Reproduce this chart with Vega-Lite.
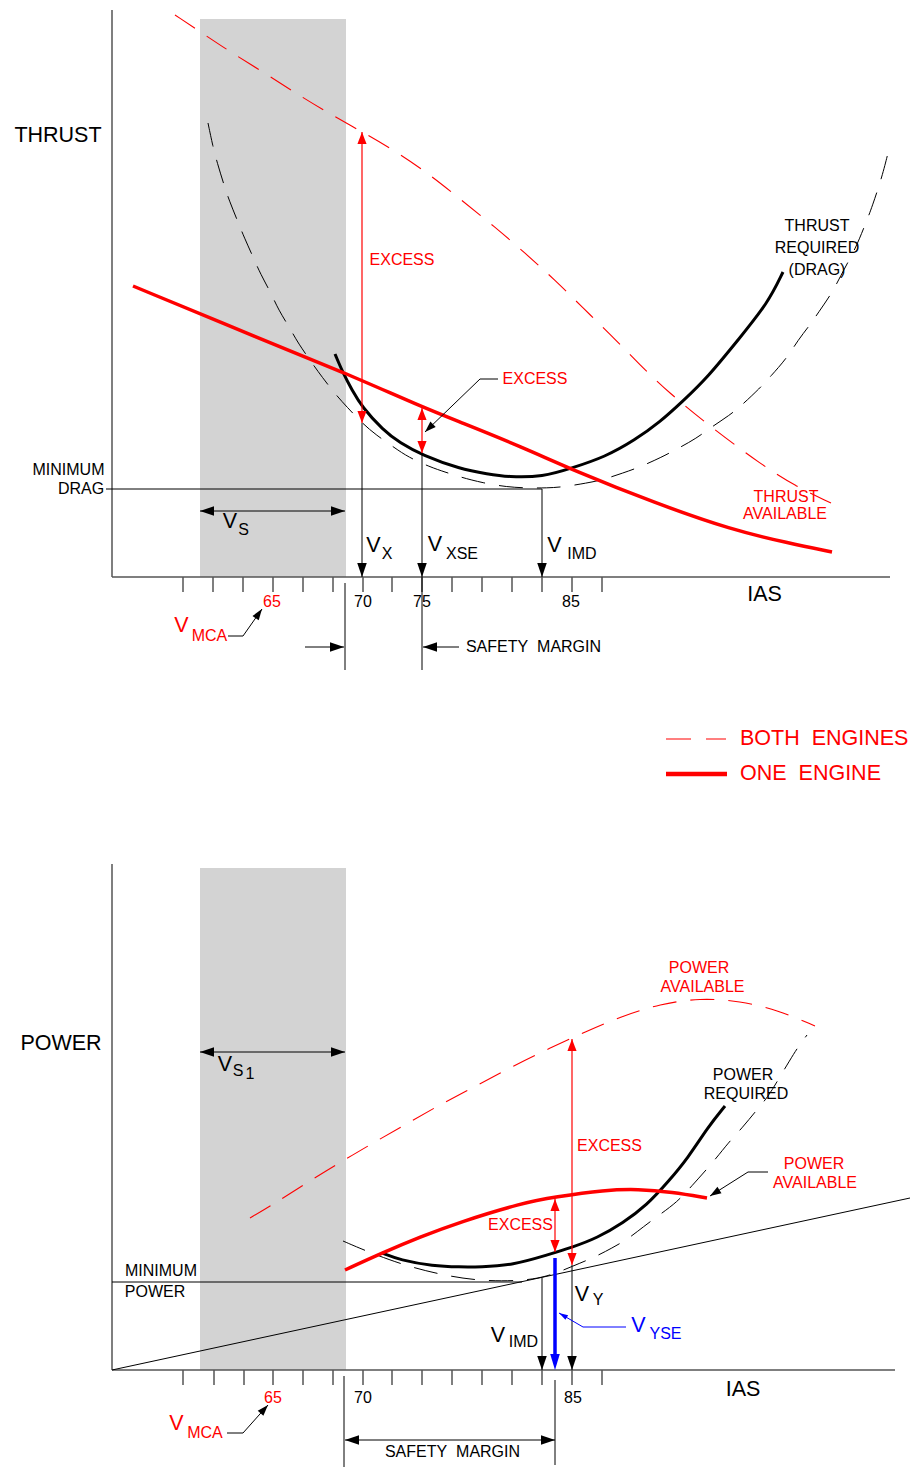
{
  "$schema": "https://vega.github.io/schema/vega-lite/v6.json",
  "background": "white",
  "padding": 0,
  "spacing": 0,
  "bounds": "flush",
  "config": {"view": {"stroke": null}, "text": {"font": "Liberation Sans"}},
  "resolve": {"scale": {"x": "independent", "y": "independent"}},
  "vconcat": [
    {
      "width": 915,
      "height": 810,
      "encoding": {
        "x": {"field": "ias", "type": "quantitative", "scale": {"domain": [0, 915], "nice": false, "zero": false}, "axis": null},
        "y": {"field": "thrust", "type": "quantitative", "scale": {"domain": [-233, 577], "nice": false, "zero": false}, "axis": null}
      },
      "layer": [
        {
          "data": {"values": [{"zone": "Vs", "ias": 200, "ias2": 346, "thrust": 0, "thrust2": 558}]},
          "mark": {"type": "rect", "color": "#d3d3d3"},
          "encoding": {"x2": {"field": "ias2"}, "y2": {"field": "thrust2"}}
        },
        {
          "data": {"values": [
            {"ias": 112, "ias2": 112, "thrust": 0, "thrust2": 567},
            {"ias": 112, "ias2": 890, "thrust": 0, "thrust2": 0},
            {"ias": 183, "ias2": 183, "thrust": 0, "thrust2": -15},
            {"ias": 213, "ias2": 213, "thrust": 0, "thrust2": -15},
            {"ias": 243, "ias2": 243, "thrust": 0, "thrust2": -15},
            {"ias": 273, "ias2": 273, "thrust": 0, "thrust2": -15},
            {"ias": 303, "ias2": 303, "thrust": 0, "thrust2": -15},
            {"ias": 333, "ias2": 333, "thrust": 0, "thrust2": -15},
            {"ias": 363, "ias2": 363, "thrust": 0, "thrust2": -15},
            {"ias": 392, "ias2": 392, "thrust": 0, "thrust2": -15},
            {"ias": 422, "ias2": 422, "thrust": 0, "thrust2": -15},
            {"ias": 452, "ias2": 452, "thrust": 0, "thrust2": -15},
            {"ias": 482, "ias2": 482, "thrust": 0, "thrust2": -15},
            {"ias": 512, "ias2": 512, "thrust": 0, "thrust2": -15},
            {"ias": 542, "ias2": 542, "thrust": 0, "thrust2": -15},
            {"ias": 572, "ias2": 572, "thrust": 0, "thrust2": -15},
            {"ias": 602, "ias2": 602, "thrust": 0, "thrust2": -15}
          ]},
          "mark": {"type": "rule", "color": "#555555", "strokeWidth": 1.5},
          "encoding": {"x2": {"field": "ias2"}, "y2": {"field": "thrust2"}}
        },
        {
          "data": {"values": [
            {"ias": 175, "thrust": 562}, {"ias": 208, "thrust": 540}, {"ias": 229, "thrust": 526}, {"ias": 263, "thrust": 505},
            {"ias": 297, "thrust": 483}, {"ias": 330, "thrust": 463}, {"ias": 366, "thrust": 443}, {"ias": 400, "thrust": 423},
            {"ias": 433, "thrust": 400}, {"ias": 460, "thrust": 378}, {"ias": 495, "thrust": 350}, {"ias": 525, "thrust": 324},
            {"ias": 555, "thrust": 297}, {"ias": 583, "thrust": 269}, {"ias": 610, "thrust": 243}, {"ias": 640, "thrust": 212},
            {"ias": 668, "thrust": 185}, {"ias": 712, "thrust": 149}, {"ias": 762, "thrust": 112}, {"ias": 795, "thrust": 91},
            {"ias": 831, "thrust": 74}
          ]},
          "mark": {"type": "line", "color": "#ff0000", "strokeWidth": 1.1, "strokeDash": [24, 14], "interpolate": "basis"}
        },
        {
          "data": {"values": [
            {"ias": 208, "thrust": 454}, {"ias": 213, "thrust": 430}, {"ias": 217, "thrust": 415}, {"ias": 224, "thrust": 392},
            {"ias": 229, "thrust": 377}, {"ias": 238, "thrust": 355}, {"ias": 244, "thrust": 340}, {"ias": 254, "thrust": 318},
            {"ias": 260, "thrust": 304}, {"ias": 272, "thrust": 282}, {"ias": 278, "thrust": 268}, {"ias": 291, "thrust": 247},
            {"ias": 298, "thrust": 234}, {"ias": 312, "thrust": 214}, {"ias": 322, "thrust": 200}, {"ias": 336, "thrust": 182},
            {"ias": 347, "thrust": 170}, {"ias": 362, "thrust": 154}, {"ias": 376, "thrust": 142}, {"ias": 395, "thrust": 129},
            {"ias": 408, "thrust": 120}, {"ias": 430, "thrust": 110}, {"ias": 445, "thrust": 105}, {"ias": 460, "thrust": 100},
            {"ias": 483, "thrust": 94}, {"ias": 507, "thrust": 90}, {"ias": 527, "thrust": 89}, {"ias": 547, "thrust": 89},
            {"ias": 563, "thrust": 90}, {"ias": 587, "thrust": 94}, {"ias": 602, "thrust": 97}, {"ias": 623, "thrust": 104},
            {"ias": 640, "thrust": 110}, {"ias": 662, "thrust": 120}, {"ias": 677, "thrust": 128}, {"ias": 697, "thrust": 139},
            {"ias": 710, "thrust": 149}, {"ias": 730, "thrust": 162}, {"ias": 742, "thrust": 172}, {"ias": 760, "thrust": 189},
            {"ias": 770, "thrust": 200}, {"ias": 787, "thrust": 219}, {"ias": 798, "thrust": 237}, {"ias": 810, "thrust": 252},
            {"ias": 818, "thrust": 264}, {"ias": 832, "thrust": 284}, {"ias": 840, "thrust": 300}, {"ias": 853, "thrust": 324},
            {"ias": 859, "thrust": 337}, {"ias": 867, "thrust": 357}, {"ias": 872, "thrust": 370}, {"ias": 882, "thrust": 400},
            {"ias": 888, "thrust": 424}
          ]},
          "mark": {"type": "line", "color": "#000000", "strokeWidth": 1, "strokeDash": [24, 14], "interpolate": "basis"}
        },
        {
          "data": {"values": [
            {"ias": 335, "thrust": 223}, {"ias": 343, "thrust": 204}, {"ias": 352, "thrust": 187}, {"ias": 362, "thrust": 170},
            {"ias": 383, "thrust": 147}, {"ias": 400, "thrust": 134}, {"ias": 422, "thrust": 122}, {"ias": 460, "thrust": 108},
            {"ias": 488, "thrust": 103}, {"ias": 508, "thrust": 100}, {"ias": 543, "thrust": 100}, {"ias": 572, "thrust": 109},
            {"ias": 605, "thrust": 120}, {"ias": 635, "thrust": 137}, {"ias": 660, "thrust": 155}, {"ias": 682, "thrust": 175},
            {"ias": 708, "thrust": 200}, {"ias": 738, "thrust": 237}, {"ias": 768, "thrust": 274}, {"ias": 783, "thrust": 305}
          ]},
          "mark": {"type": "line", "color": "#000000", "strokeWidth": 3, "interpolate": "basis"}
        },
        {
          "data": {"values": [
            {"ias": 133, "thrust": 291}, {"ias": 263, "thrust": 237}, {"ias": 343, "thrust": 205}, {"ias": 422, "thrust": 170},
            {"ias": 460, "thrust": 155}, {"ias": 522, "thrust": 130}, {"ias": 575, "thrust": 106}, {"ias": 655, "thrust": 74},
            {"ias": 732, "thrust": 47}, {"ias": 788, "thrust": 34}, {"ias": 832, "thrust": 25}
          ]},
          "mark": {"type": "line", "color": "#ff0000", "strokeWidth": 3.5, "interpolate": "basis"}
        },
        {
          "data": {"values": [
            {"ias": 106, "ias2": 542, "thrust": 88, "thrust2": 88},
            {"ias": 362, "ias2": 362, "thrust": 154, "thrust2": 0},
            {"ias": 422, "ias2": 422, "thrust": 122, "thrust2": -93},
            {"ias": 542, "ias2": 542, "thrust": 88, "thrust2": 0},
            {"ias": 345, "ias2": 345, "thrust": -6, "thrust2": -93},
            {"ias": 305, "ias2": 344, "thrust": -70, "thrust2": -70},
            {"ias": 423, "ias2": 459, "thrust": -70, "thrust2": -70},
            {"ias": 200, "ias2": 345, "thrust": 66, "thrust2": 66},
            {"ias": 498, "ias2": 480, "thrust": 198, "thrust2": 198},
            {"ias": 480, "ias2": 425, "thrust": 198, "thrust2": 145},
            {"ias": 228, "ias2": 243, "thrust": -59, "thrust2": -59},
            {"ias": 243, "ias2": 262, "thrust": -59, "thrust2": -32}
          ]},
          "mark": {"type": "rule", "color": "#000000", "strokeWidth": 1},
          "encoding": {"x2": {"field": "ias2"}, "y2": {"field": "thrust2"}}
        },
        {
          "data": {"values": [
            {"ias": 362, "ias2": 362, "thrust": 445, "thrust2": 154},
            {"ias": 422, "ias2": 422, "thrust": 169, "thrust2": 124}
          ]},
          "mark": {"type": "rule", "color": "#ff0000", "strokeWidth": 1.2},
          "encoding": {"x2": {"field": "ias2"}, "y2": {"field": "thrust2"}}
        },
        {
          "data": {"values": [{"ias": 666, "ias2": 726, "thrust": -162, "thrust2": -162}]},
          "mark": {"type": "rule", "color": "#ff0000", "strokeWidth": 1.2, "strokeDash": [25, 15]},
          "encoding": {"x2": {"field": "ias2"}, "y2": {"field": "thrust2"}}
        },
        {
          "data": {"values": [{"ias": 666, "ias2": 727, "thrust": -197, "thrust2": -197}]},
          "mark": {"type": "rule", "color": "#ff0000", "strokeWidth": 4.5},
          "encoding": {"x2": {"field": "ias2"}, "y2": {"field": "thrust2"}}
        },
        {
          "data": {"values": [
            {"ias": 362, "thrust": 0, "heading": 0},
            {"ias": 422, "thrust": 0, "heading": 0},
            {"ias": 542, "thrust": 0, "heading": 0},
            {"ias": 344, "thrust": -70, "heading": 270},
            {"ias": 423, "thrust": -70, "heading": 90},
            {"ias": 200, "thrust": 66, "heading": 90},
            {"ias": 345, "thrust": 66, "heading": 270}
          ]},
          "mark": {"type": "point", "shape": "M0,0L-0.34,-1L0.34,-1Z", "filled": true, "opacity": 1, "color": "#000000", "size": 784, "strokeWidth": 0},
          "encoding": {"angle": {"field": "heading", "type": "quantitative", "scale": null}}
        },
        {
          "data": {"values": [
            {"ias": 425, "thrust": 145, "heading": 46},
            {"ias": 262, "thrust": -32, "heading": 215}
          ]},
          "mark": {"type": "point", "shape": "M0,0L-0.34,-1L0.34,-1Z", "filled": true, "opacity": 1, "color": "#000000", "size": 500, "strokeWidth": 0},
          "encoding": {"angle": {"field": "heading", "type": "quantitative", "scale": null}}
        },
        {
          "data": {"values": [
            {"ias": 362, "thrust": 445, "heading": 180},
            {"ias": 362, "thrust": 154, "heading": 0},
            {"ias": 422, "thrust": 169, "heading": 180},
            {"ias": 422, "thrust": 124, "heading": 0}
          ]},
          "mark": {"type": "point", "shape": "M0,0L-0.38,-1L0.38,-1Z", "filled": true, "opacity": 1, "color": "#ff0000", "size": 576, "strokeWidth": 0},
          "encoding": {"angle": {"field": "heading", "type": "quantitative", "scale": null}}
        },
        {
          "data": {"values": [
            {"ias": 68.5, "thrust": 107, "label": "MINIMUM"},
            {"ias": 81, "thrust": 88, "label": "DRAG"},
            {"ias": 817, "thrust": 351, "label": "THRUST"},
            {"ias": 817, "thrust": 329, "label": "REQUIRED"},
            {"ias": 817, "thrust": 307, "label": "(DRAG)"},
            {"ias": 363, "thrust": -25, "label": "70"},
            {"ias": 422, "thrust": -25, "label": "75"},
            {"ias": 571, "thrust": -25, "label": "85"},
            {"ias": 533.5, "thrust": -70, "label": "SAFETY\u00a0\u00a0MARGIN"},
            {"ias": 243.5, "thrust": 47, "label": "S"},
            {"ias": 387, "thrust": 23, "label": "X"},
            {"ias": 462, "thrust": 23, "label": "XSE"},
            {"ias": 582, "thrust": 23, "label": "IMD"}
          ]},
          "mark": {"type": "text", "align": "center", "baseline": "middle", "fontSize": 16, "color": "#000000"},
          "encoding": {"text": {"field": "label"}}
        },
        {
          "data": {"values": [
            {"ias": 58, "thrust": 441, "label": "THRUST"},
            {"ias": 764.5, "thrust": -18, "label": "IAS"},
            {"ias": 230, "thrust": 55, "label": "V"},
            {"ias": 373.5, "thrust": 31.5, "label": "V"},
            {"ias": 435, "thrust": 32, "label": "V"},
            {"ias": 554.5, "thrust": 31, "label": "V"}
          ]},
          "mark": {"type": "text", "align": "center", "baseline": "middle", "fontSize": 21.5, "color": "#000000"},
          "encoding": {"text": {"field": "label"}}
        },
        {
          "data": {"values": [
            {"ias": 402, "thrust": 317, "label": "EXCESS"},
            {"ias": 535, "thrust": 198, "label": "EXCESS"},
            {"ias": 786, "thrust": 80, "label": "THRUST"},
            {"ias": 785, "thrust": 63, "label": "AVAILABLE"},
            {"ias": 272, "thrust": -25, "label": "65"},
            {"ias": 209.5, "thrust": -59, "label": "MCA"}
          ]},
          "mark": {"type": "text", "align": "center", "baseline": "middle", "fontSize": 16, "color": "#ff0000"},
          "encoding": {"text": {"field": "label"}}
        },
        {
          "data": {"values": [{"ias": 181.5, "thrust": -48.5, "label": "V"}]},
          "mark": {"type": "text", "align": "center", "baseline": "middle", "fontSize": 21.5, "color": "#ff0000"},
          "encoding": {"text": {"field": "label"}}
        },
        {
          "data": {"values": [
            {"ias": 740, "thrust": -162, "label": "BOTH\u00a0\u00a0ENGINES"},
            {"ias": 740, "thrust": -197, "label": "ONE\u00a0\u00a0ENGINE"}
          ]},
          "mark": {"type": "text", "align": "left", "baseline": "middle", "fontSize": 21.5, "color": "#ff0000"},
          "encoding": {"text": {"field": "label"}}
        }
      ]
    },
    {
      "width": 915,
      "height": 658,
      "encoding": {
        "x": {"field": "ias", "type": "quantitative", "scale": {"domain": [0, 915], "nice": false, "zero": false}, "axis": null},
        "y": {"field": "power", "type": "quantitative", "scale": {"domain": [-98, 560], "nice": false, "zero": false}, "axis": null}
      },
      "layer": [
        {
          "data": {"values": [{"zone": "Vs1", "ias": 200, "ias2": 346, "power": 0, "power2": 502}]},
          "mark": {"type": "rect", "color": "#d3d3d3"},
          "encoding": {"x2": {"field": "ias2"}, "y2": {"field": "power2"}}
        },
        {
          "data": {"values": [
            {"ias": 112, "ias2": 112, "power": 0, "power2": 506},
            {"ias": 112, "ias2": 895, "power": 0, "power2": 0},
            {"ias": 183, "ias2": 183, "power": 0, "power2": -15},
            {"ias": 214, "ias2": 214, "power": 0, "power2": -15},
            {"ias": 244, "ias2": 244, "power": 0, "power2": -15},
            {"ias": 273, "ias2": 273, "power": 0, "power2": -15},
            {"ias": 303, "ias2": 303, "power": 0, "power2": -15},
            {"ias": 333, "ias2": 333, "power": 0, "power2": -15},
            {"ias": 363, "ias2": 363, "power": 0, "power2": -15},
            {"ias": 392, "ias2": 392, "power": 0, "power2": -15},
            {"ias": 422, "ias2": 422, "power": 0, "power2": -15},
            {"ias": 452, "ias2": 452, "power": 0, "power2": -15},
            {"ias": 482, "ias2": 482, "power": 0, "power2": -15},
            {"ias": 512, "ias2": 512, "power": 0, "power2": -15},
            {"ias": 542, "ias2": 542, "power": 0, "power2": -15},
            {"ias": 572, "ias2": 572, "power": 0, "power2": -15},
            {"ias": 602, "ias2": 602, "power": 0, "power2": -15}
          ]},
          "mark": {"type": "rule", "color": "#555555", "strokeWidth": 1.5},
          "encoding": {"x2": {"field": "ias2"}, "y2": {"field": "power2"}}
        },
        {
          "data": {"values": [
            {"ias": 250, "power": 152}, {"ias": 272, "power": 165}, {"ias": 305, "power": 186}, {"ias": 339, "power": 207},
            {"ias": 373, "power": 227}, {"ias": 408, "power": 247}, {"ias": 443, "power": 267}, {"ias": 478, "power": 285},
            {"ias": 513, "power": 304}, {"ias": 550, "power": 322}, {"ias": 585, "power": 338}, {"ias": 622, "power": 354},
            {"ias": 660, "power": 366}, {"ias": 700, "power": 372}, {"ias": 740, "power": 369}, {"ias": 778, "power": 360},
            {"ias": 815, "power": 344}
          ]},
          "mark": {"type": "line", "color": "#ff0000", "strokeWidth": 1.1, "strokeDash": [24, 14], "interpolate": "basis"}
        },
        {
          "data": {"values": [
            {"ias": 343, "power": 129}, {"ias": 366, "power": 119}, {"ias": 403, "power": 105}, {"ias": 442, "power": 95},
            {"ias": 480, "power": 89}, {"ias": 520, "power": 89}, {"ias": 547, "power": 93}, {"ias": 573, "power": 104},
            {"ias": 595, "power": 113}, {"ias": 612, "power": 122}, {"ias": 628, "power": 131}, {"ias": 643, "power": 143},
            {"ias": 662, "power": 157}, {"ias": 677, "power": 168}, {"ias": 690, "power": 182}, {"ias": 715, "power": 210},
            {"ias": 728, "power": 227}, {"ias": 743, "power": 243}, {"ias": 755, "power": 258}, {"ias": 768, "power": 273},
            {"ias": 778, "power": 290}, {"ias": 790, "power": 310}, {"ias": 798, "power": 323}, {"ias": 807, "power": 335}
          ]},
          "mark": {"type": "line", "color": "#000000", "strokeWidth": 1, "strokeDash": [24, 14], "interpolate": "basis"}
        },
        {
          "data": {"values": [
            {"ias": 382, "power": 117}, {"ias": 400, "power": 110}, {"ias": 433, "power": 104}, {"ias": 460, "power": 103},
            {"ias": 480, "power": 103}, {"ias": 513, "power": 105}, {"ias": 547, "power": 115}, {"ias": 573, "power": 123},
            {"ias": 597, "power": 132}, {"ias": 623, "power": 147}, {"ias": 647, "power": 165}, {"ias": 668, "power": 188},
            {"ias": 688, "power": 212}, {"ias": 708, "power": 243}, {"ias": 725, "power": 264}
          ]},
          "mark": {"type": "line", "color": "#000000", "strokeWidth": 3, "interpolate": "basis"}
        },
        {
          "data": {"values": [
            {"ias": 345, "power": 100}, {"ias": 382, "power": 117}, {"ias": 420, "power": 133}, {"ias": 460, "power": 148},
            {"ias": 522, "power": 167}, {"ias": 555, "power": 173}, {"ias": 605, "power": 180}, {"ias": 638, "power": 181},
            {"ias": 672, "power": 178}, {"ias": 707, "power": 172}
          ]},
          "mark": {"type": "line", "color": "#ff0000", "strokeWidth": 3.5, "interpolate": "basis"}
        },
        {
          "data": {"values": [
            {"ias": 344, "ias2": 344, "power": -6, "power2": -97},
            {"ias": 555, "ias2": 555, "power": -10, "power2": -95},
            {"ias": 345, "ias2": 555, "power": -70, "power2": -70},
            {"ias": 200, "ias2": 345, "power": 318, "power2": 318},
            {"ias": 112, "ias2": 522, "power": 88, "power2": 88},
            {"ias": 112, "ias2": 910, "power": 0, "power2": 172},
            {"ias": 542, "ias2": 542, "power": 92, "power2": 0},
            {"ias": 572, "ias2": 572, "power": 105, "power2": 0},
            {"ias": 227, "ias2": 243, "power": -63, "power2": -63},
            {"ias": 243, "ias2": 268, "power": -63, "power2": -35},
            {"ias": 768, "ias2": 748, "power": 198, "power2": 198},
            {"ias": 748, "ias2": 710, "power": 198, "power2": 174}
          ]},
          "mark": {"type": "rule", "color": "#000000", "strokeWidth": 1},
          "encoding": {"x2": {"field": "ias2"}, "y2": {"field": "power2"}}
        },
        {
          "data": {"values": [
            {"ias": 572, "ias2": 572, "power": 331, "power2": 105},
            {"ias": 555, "ias2": 555, "power": 171, "power2": 118}
          ]},
          "mark": {"type": "rule", "color": "#ff0000", "strokeWidth": 1.2},
          "encoding": {"x2": {"field": "ias2"}, "y2": {"field": "power2"}}
        },
        {
          "data": {"values": [{"ias": 555, "ias2": 555, "power": 112, "power2": 12}]},
          "mark": {"type": "rule", "color": "#0000ff", "strokeWidth": 3.5},
          "encoding": {"x2": {"field": "ias2"}, "y2": {"field": "power2"}}
        },
        {
          "data": {"values": [
            {"ias": 626, "ias2": 583, "power": 43, "power2": 43},
            {"ias": 583, "ias2": 559, "power": 43, "power2": 57}
          ]},
          "mark": {"type": "rule", "color": "#0000ff", "strokeWidth": 1},
          "encoding": {"x2": {"field": "ias2"}, "y2": {"field": "power2"}}
        },
        {
          "data": {"values": [
            {"ias": 542, "power": 0, "heading": 0},
            {"ias": 572, "power": 0, "heading": 0},
            {"ias": 345, "power": -70, "heading": 90},
            {"ias": 555, "power": -70, "heading": 270},
            {"ias": 200, "power": 318, "heading": 90},
            {"ias": 345, "power": 318, "heading": 270}
          ]},
          "mark": {"type": "point", "shape": "M0,0L-0.34,-1L0.34,-1Z", "filled": true, "opacity": 1, "color": "#000000", "size": 784, "strokeWidth": 0},
          "encoding": {"angle": {"field": "heading", "type": "quantitative", "scale": null}}
        },
        {
          "data": {"values": [
            {"ias": 268, "power": -35, "heading": 221.8},
            {"ias": 710, "power": 174, "heading": 57.7}
          ]},
          "mark": {"type": "point", "shape": "M0,0L-0.34,-1L0.34,-1Z", "filled": true, "opacity": 1, "color": "#000000", "size": 500, "strokeWidth": 0},
          "encoding": {"angle": {"field": "heading", "type": "quantitative", "scale": null}}
        },
        {
          "data": {"values": [
            {"ias": 572, "power": 331, "heading": 180},
            {"ias": 572, "power": 105, "heading": 0},
            {"ias": 555, "power": 171, "heading": 180},
            {"ias": 555, "power": 118, "heading": 0}
          ]},
          "mark": {"type": "point", "shape": "M0,0L-0.38,-1L0.38,-1Z", "filled": true, "opacity": 1, "color": "#ff0000", "size": 576, "strokeWidth": 0},
          "encoding": {"angle": {"field": "heading", "type": "quantitative", "scale": null}}
        },
        {
          "data": {"values": [{"ias": 555, "power": 0, "heading": 0}]},
          "mark": {"type": "point", "shape": "M0,0L-0.3,-1L0.3,-1Z", "filled": true, "opacity": 1, "color": "#0000ff", "size": 1024, "strokeWidth": 0},
          "encoding": {"angle": {"field": "heading", "type": "quantitative", "scale": null}}
        },
        {
          "data": {"values": [{"ias": 559, "power": 57, "heading": 120.3}]},
          "mark": {"type": "point", "shape": "M0,0L-0.3,-1L0.3,-1Z", "filled": true, "opacity": 1, "color": "#0000ff", "size": 324, "strokeWidth": 0},
          "encoding": {"angle": {"field": "heading", "type": "quantitative", "scale": null}}
        },
        {
          "data": {"values": [
            {"ias": 161, "power": 99, "label": "MINIMUM"},
            {"ias": 155, "power": 78, "label": "POWER"},
            {"ias": 743, "power": 295, "label": "POWER"},
            {"ias": 746, "power": 276, "label": "REQUIRED"},
            {"ias": 363, "power": -28, "label": "70"},
            {"ias": 573, "power": -28, "label": "85"},
            {"ias": 452.5, "power": -82, "label": "SAFETY\u00a0\u00a0MARGIN"},
            {"ias": 238, "power": 299.5, "label": "S"},
            {"ias": 250, "power": 296.5, "label": "1"},
            {"ias": 523.5, "power": 28, "label": "IMD"},
            {"ias": 598, "power": 70, "label": "Y"}
          ]},
          "mark": {"type": "text", "align": "center", "baseline": "middle", "fontSize": 16, "color": "#000000"},
          "encoding": {"text": {"field": "label"}}
        },
        {
          "data": {"values": [
            {"ias": 61, "power": 326, "label": "POWER"},
            {"ias": 743, "power": -20, "label": "IAS"},
            {"ias": 225, "power": 305, "label": "V"},
            {"ias": 498, "power": 34.5, "label": "V"},
            {"ias": 582, "power": 75.5, "label": "V"}
          ]},
          "mark": {"type": "text", "align": "center", "baseline": "middle", "fontSize": 21.5, "color": "#000000"},
          "encoding": {"text": {"field": "label"}}
        },
        {
          "data": {"values": [
            {"ias": 609.5, "power": 224, "label": "EXCESS"},
            {"ias": 520.5, "power": 145, "label": "EXCESS"},
            {"ias": 699, "power": 402, "label": "POWER"},
            {"ias": 702.5, "power": 383, "label": "AVAILABLE"},
            {"ias": 814, "power": 206, "label": "POWER"},
            {"ias": 815, "power": 187, "label": "AVAILABLE"},
            {"ias": 273, "power": -28, "label": "65"},
            {"ias": 205, "power": -62.5, "label": "MCA"}
          ]},
          "mark": {"type": "text", "align": "center", "baseline": "middle", "fontSize": 16, "color": "#ff0000"},
          "encoding": {"text": {"field": "label"}}
        },
        {
          "data": {"values": [{"ias": 176.5, "power": -53.5, "label": "V"}]},
          "mark": {"type": "text", "align": "center", "baseline": "middle", "fontSize": 21.5, "color": "#ff0000"},
          "encoding": {"text": {"field": "label"}}
        },
        {
          "data": {"values": [{"ias": 638.5, "power": 44.5, "label": "V"}]},
          "mark": {"type": "text", "align": "center", "baseline": "middle", "fontSize": 21.5, "color": "#0000ff"},
          "encoding": {"text": {"field": "label"}}
        },
        {
          "data": {"values": [{"ias": 665.5, "power": 36, "label": "YSE"}]},
          "mark": {"type": "text", "align": "center", "baseline": "middle", "fontSize": 16, "color": "#0000ff"},
          "encoding": {"text": {"field": "label"}}
        }
      ]
    }
  ]
}
